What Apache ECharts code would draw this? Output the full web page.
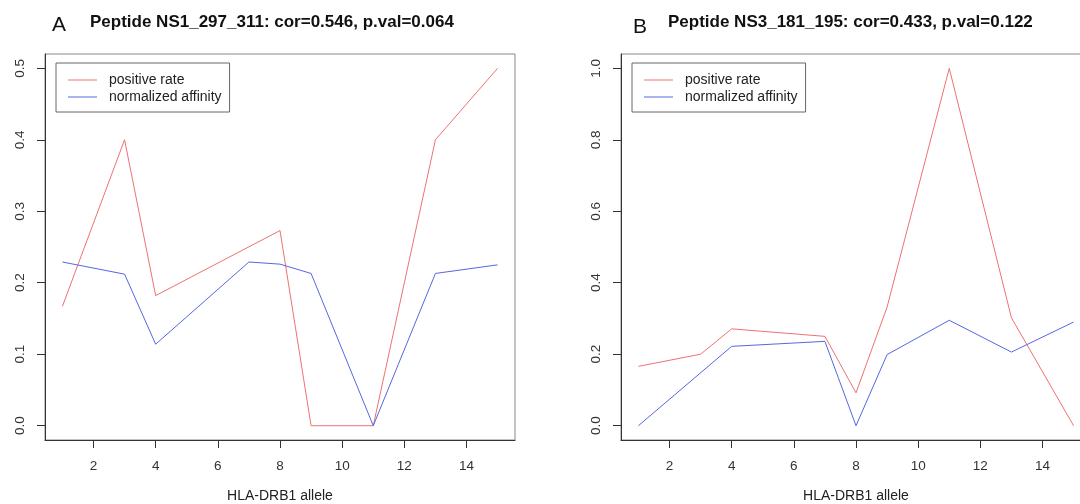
<!DOCTYPE html>
<html>
<head>
<meta charset="utf-8">
<script src="https://cdn.jsdelivr.net/npm/echarts@6/dist/echarts.min.js"></script>
<style>
  html, body { margin: 0; padding: 0; background: #fff; }
  #main { width: 1080px; height: 504px; }
</style>
</head>
<body>
<div id="main"></div>
<script>
// tick values
var alleleTicks = [2, 4, 6, 8, 10, 12, 14];
var ticksA = [0, 0.1, 0.2, 0.3, 0.4, 0.5];
var ticksB = [0, 0.2, 0.4, 0.6, 0.8, 1.0];

// panel A: NS1_297_311  [allele, value]
var posRateA = [[1, 0.167], [3, 0.4], [4, 0.182], [8, 0.273], [9, 0], [11, 0], [13, 0.4], [15, 0.5]];
var affinityA = [[1, 0.229], [3, 0.212], [4, 0.114], [7, 0.229], [8, 0.226], [9, 0.213], [11, 0], [13, 0.213], [15, 0.225]];

// panel B: NS3_181_195
var posRateB = [[1, 0.166], [3, 0.2], [4, 0.271], [7, 0.25], [8, 0.092], [9, 0.332], [11, 1.0], [13, 0.302], [15, 0]];
var affinityB = [[1, 0], [4, 0.222], [7, 0.236], [8, 0], [9, 0.199], [11, 0.295], [13, 0.206], [15, 0.29]];

var FONT = "'Liberation Sans', Arial, sans-serif";
var RED = '#ee7272';
var BLUE = '#5468e0';

document.addEventListener('DOMContentLoaded', function() {
  var myChart = echarts.init(document.getElementById('main'));

  function xAx(i) {
    return {
      type: 'value', gridIndex: i, min: 0.44, max: 15.56,
      name: 'HLA-DRB1 allele', nameLocation: 'middle', nameGap: 49,
      nameTextStyle: { fontSize: 14, color: '#222', fontFamily: FONT },
      axisLine: { show: true, onZero: false, lineStyle: { color: '#333' } },
      axisTick: { show: true, length: 8, customValues: alleleTicks, lineStyle: { color: '#333' } },
      axisLabel: { customValues: alleleTicks, margin: 19, fontSize: 13.5, color: '#333', fontFamily: FONT },
      splitLine: { show: false }
    };
  }

  function yAx(i, max, ticks, decimals) {
    var pad = max * 0.04;
    return {
      type: 'value', gridIndex: i, min: -pad, max: max + pad,
      axisLine: { show: true, onZero: false, lineStyle: { color: '#333' } },
      axisTick: { show: true, length: 8, customValues: ticks, lineStyle: { color: '#333' } },
      axisLabel: {
        customValues: ticks, rotate: 90, margin: 18, fontSize: 13.5, color: '#333', fontFamily: FONT,
        formatter: function(v) { return v.toFixed(decimals); }
      },
      splitLine: { show: false }
    };
  }

  function legendAt(left) {
    return {
      left: left, top: 63, orient: 'vertical',
      data: ['positive rate', 'normalized affinity'],
      icon: 'rect',
      borderColor: '#666', borderWidth: 1, borderRadius: 0,
      padding: [10, 8, 8, 12], itemGap: 3, itemWidth: 29, itemHeight: 1,
      textStyle: { fontSize: 14, lineHeight: 14, color: '#222', fontFamily: FONT, padding: [0, 0, 0, 7] }
    };
  }

  function line(name, data, color, i) {
    return {
      name: name, type: 'line', data: data, xAxisIndex: i, yAxisIndex: i,
      symbol: 'none', color: color,
      lineStyle: { width: 1, color: color }
    };
  }

  var option = {
    animation: false,
    backgroundColor: '#fff',
    title: [
      { text: 'A', left: 52, top: 15, padding: 0,
        textStyle: { fontSize: 21, fontWeight: 'normal', color: '#111', fontFamily: FONT } },
      { text: 'Peptide NS1_297_311: cor=0.546, p.val=0.064', left: 90, top: 14, padding: 0,
        textStyle: { fontSize: 17, fontWeight: 'bold', color: '#111', fontFamily: FONT } },
      { text: 'B', left: 633, top: 17, padding: 0,
        textStyle: { fontSize: 21, fontWeight: 'normal', color: '#111', fontFamily: FONT } },
      { text: 'Peptide NS3_181_195: cor=0.433, p.val=0.122', left: 668, top: 14, padding: 0,
        textStyle: { fontSize: 17, fontWeight: 'bold', color: '#111', fontFamily: FONT } }
    ],
    legend: [legendAt(56), legendAt(632)],
    grid: [
      { left: 45, top: 54, width: 470, height: 386, show: true, borderColor: '#888', borderWidth: 1,
        outerBoundsMode: 'none', containLabel: false },
      { left: 621, top: 54, width: 470, height: 386, show: true, borderColor: '#888', borderWidth: 1,
        outerBoundsMode: 'none', containLabel: false }
    ],
    xAxis: [xAx(0), xAx(1)],
    yAxis: [yAx(0, 0.5, ticksA, 1), yAx(1, 1.0, ticksB, 1)],
    series: [
      line('positive rate', posRateA, RED, 0),
      line('normalized affinity', affinityA, BLUE, 0),
      line('positive rate', posRateB, RED, 1),
      line('normalized affinity', affinityB, BLUE, 1)
    ]
  };

  myChart.setOption(option);
});
</script>
</body>
</html>
